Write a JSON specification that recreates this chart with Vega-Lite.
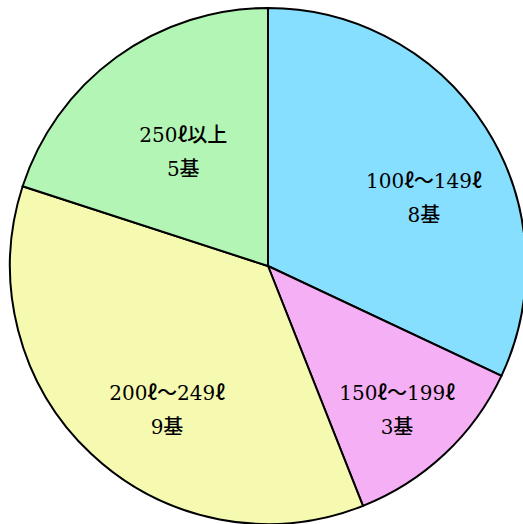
{
  "$schema": "https://vega.github.io/schema/vega-lite/v6.json",
  "width": 518,
  "height": 516,
  "autosize": "none",
  "padding": {"left": 9, "top": 8, "right": 0, "bottom": 0},
  "background": "white",
  "view": {"stroke": null},
  "data": {
    "values": [
      {"range": "100ℓ〜149ℓ", "count": 8, "label": "100ℓ〜149ℓ\n8基"},
      {"range": "150ℓ〜199ℓ", "count": 3, "label": "150ℓ〜199ℓ\n3基"},
      {"range": "200ℓ〜249ℓ", "count": 9, "label": "200ℓ〜249ℓ\n9基"},
      {"range": "250ℓ以上", "count": 5, "label": "250ℓ以上\n5基"}
    ]
  },
  "encoding": {
    "theta": {"field": "count", "type": "quantitative", "stack": true},
    "order": {"field": "range", "type": "nominal"}
  },
  "layer": [
    {
      "mark": {"type": "arc", "radius": 258, "stroke": "black", "strokeWidth": 2},
      "encoding": {
        "color": {
          "field": "range",
          "type": "nominal",
          "scale": {
            "domain": ["100ℓ〜149ℓ", "150ℓ〜199ℓ", "200ℓ〜249ℓ", "250ℓ以上"],
            "range": ["#87DFFF", "#F5B0F5", "#F5FAB0", "#B3F5B5"]
          },
          "legend": null
        }
      }
    },
    {
      "mark": {
        "type": "text",
        "radius": 168,
        "dx": 14,
        "dy": 6,
        "lineBreak": "\n",
        "lineHeight": 34,
        "font": "DejaVu Serif, Noto Sans CJK JP",
        "fontSize": 20,
        "fontWeight": 500,
        "color": "black",
        "align": "center",
        "baseline": "middle"
      },
      "encoding": {
        "text": {"field": "label", "type": "nominal"}
      }
    }
  ]
}
